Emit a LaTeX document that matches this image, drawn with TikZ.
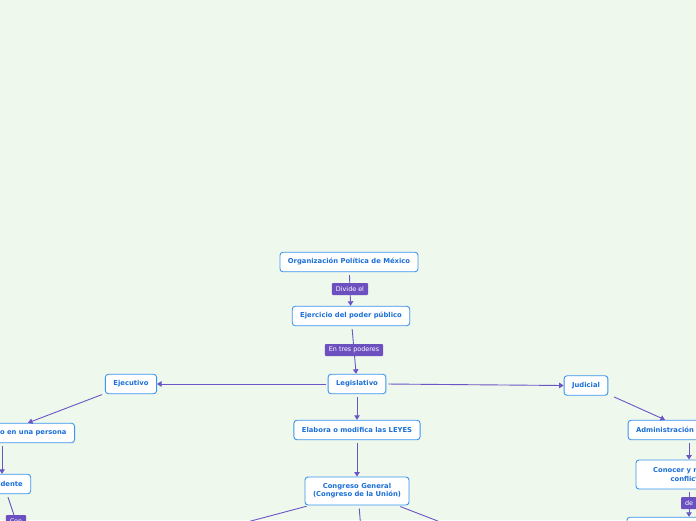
\documentclass[tikz,border=0pt]{standalone}
\usepackage{fontspec}
\setmainfont{DejaVu Sans}
\usetikzlibrary{arrows.meta,positioning}

\definecolor{fondo}{HTML}{EFF8EC}
\definecolor{borde}{HTML}{3A95EE}
\definecolor{letra}{HTML}{1B6FD8}
\definecolor{enlace}{HTML}{6B54C6}
\definecolor{etiq}{HTML}{6D50C0}

\tikzset{
  tema/.style={draw=borde, line width=0.9pt, fill=white, rounded corners=3pt,
    text=letra, font=\fontsize{6.8}{8.2}\selectfont\bfseries, align=center,
    inner xsep=8pt, inner ysep=2pt, minimum height=19.5pt},
  etiqueta/.style={fill=etiq, text=white, rounded corners=1pt,
    font=\fontsize{6.4}{7}\selectfont, inner xsep=4pt, inner ysep=0pt, minimum height=12pt},
  flecha/.style={draw=enlace, line width=0.9pt, -{Triangle[length=4.5pt,width=5.5pt]}, shorten <=3pt},
  linea/.style={draw=enlace, line width=0.9pt, shorten <=3pt},
}

\begin{document}
\begin{tikzpicture}[x=1pt,y=-1pt]
  \fill[fondo] (0,0) rectangle (696,520);
  \useasboundingbox (0,0) rectangle (696,520);
  \clip (0,0) rectangle (696,520);

  % centro
  \node[tema] (org) at (349,262) {Organización Política de México};
  \node[tema] (ejer) at (351,316) {Ejercicio del poder público};
  \node[tema] (legis) at (357,384) {Legislativo};
  \node[tema] (elab) at (357,430) {Elabora o modifica las LEYES};
  \node[tema, minimum height=28pt] (cong) at (357,491) {Congreso General\\(Congreso de la Unión)};

  % lados
  \node[tema] (ejec) at (131,384) {Ejecutivo};
  \node[tema] (jud) at (586,385.5) {Judicial};
  \node[tema, anchor=east] (pers) at (75,433) {Depositado en una persona};
  \node[tema] (pres) at (2,484) {Presidente};
  \node[tema] (admin) at (665,430) {Administración};
  \node[tema, minimum height=29pt, minimum width=106pt] (conoc) at (689,474.5) {Conocer y resolver\\conflictos};
  \node[tema, minimum width=124pt] (sig) at (689,527) {};

  \coordinate (bajo1) at (217,530);
  \coordinate (bajo2) at (361,530);
  \coordinate (bajo3) at (461,530);

  \draw[flecha] (org) -- node[etiqueta] {Divide el} (ejer);
  \draw[flecha] (ejer) -- node[etiqueta] {En tres poderes} (legis);
  \draw[flecha, shorten <=2pt] (legis.west) -- (ejec.east);
  \draw[flecha, shorten <=2pt] (legis.east) -- (jud.west);
  \draw[flecha] (legis) -- (elab);
  \draw[flecha] (elab) -- (cong);
  \draw[linea] ([xshift=5pt]cong.south west) -- (bajo1);
  \draw[linea] ([xshift=2pt]cong.south) -- (bajo2);
  \draw[linea] ([xshift=-12pt]cong.south east) -- (bajo3);

  \draw[flecha, shorten <=1pt] ([xshift=-2pt]ejec.south west) -- ([xshift=-47pt]pers.north east);
  \draw[flecha] (pers.south -| pres.north) -- (pres.north);
  \node[etiqueta] (con) at (16,521) {Con};
  \draw[linea] ([xshift=5pt]pres.south) -- (con);

  \draw[flecha] ([xshift=3pt]jud.south east) -- (admin.north);
  \draw[flecha] (admin.south -| conoc.north) -- (conoc.north);
  \draw[flecha] (conoc) -- node[etiqueta] {de} (sig);
\end{tikzpicture}
\end{document}
